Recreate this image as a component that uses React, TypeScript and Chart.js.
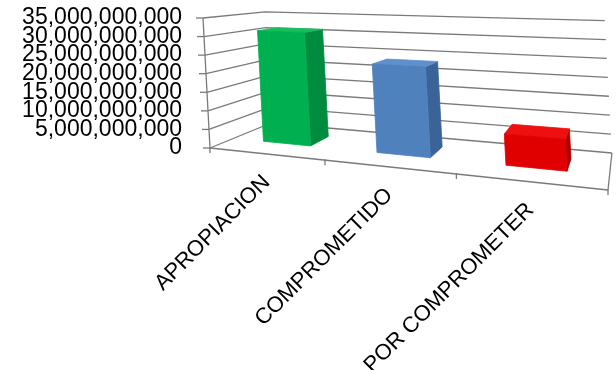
import React, { useEffect, useRef } from "react";
import { Chart, registerables } from "chart.js";

Chart.register(...registerables);

// ---- data ----
const categories = ["APROPIACION", "COMPROMETIDO", "POR COMPROMETER"];
const values = [31000000000, 23300000000, 7700000000];
const yTicks = [0, 5000000000, 10000000000, 15000000000, 20000000000, 25000000000, 30000000000, 35000000000];
const yTickLabels = [
  "0",
  "5,000,000,000",
  "10,000,000,000",
  "15,000,000,000",
  "20,000,000,000",
  "25,000,000,000",
  "30,000,000,000",
  "35,000,000,000",
];

// ---- styles ----
const frontColors = ["#00B050", "#4F81BD", "#E00000"];
const sideColors = ["#008C3F", "#3A6497", "#AD0000"];
const topColors = ["#16BE5E", "#6090CC", "#EE1010"];
const lineColor = "#7A7A7A";
const FONT = '"Liberation Sans", Arial, sans-serif';

// perspective camera (layout constants)
const CAM = { g: -0.1873, k: 0.1696, lean: 7, backDx: 61, backDy: 25, rightDrop: 42 };
const BAR_Z0 = 0.35;
const BAR_Z1 = 0.7;

function makeProj(area: any) {
  const L = area.left, B = area.bottom, R = area.right;
  const H = area.bottom - area.top;
  const { g, k, lean, backDx, backDy, rightDrop } = CAM;
  const ax = R * (1 + g) - L;
  const ay = (B + rightDrop) * (1 + g) - B;
  const pz = (L + backDx) * (1 + k) - L;
  const qz = (B - backDy) * (1 + k) - B;
  return (u: number, v: number, z: number): [number, number] => {
    const w = 1 + g * u + k * z;
    return [(L + ax * u - lean * v + pz * z) / w, (B + ay * u - H * v + qz * z) / w];
  };
}

const threeD = {
  id: "threeD",
  beforeDatasetsDraw() {
    return false;
  },
  afterDraw(chart: any) {
    const ctx = chart.ctx;
    const area = chart.chartArea;
    const P = makeProj(area);
    const W = area.right - area.left;
    const H = area.bottom - area.top;
    const yScale = chart.scales.y;
    const line = (pts: [number, number][]) => {
      ctx.beginPath();
      ctx.moveTo(pts[0][0], pts[0][1]);
      for (let i = 1; i < pts.length; i++) ctx.lineTo(pts[i][0], pts[i][1]);
      ctx.stroke();
    };
    ctx.save();
    ctx.strokeStyle = lineColor;
    ctx.lineWidth = 1.3;
    ctx.lineJoin = "round";
    // gridlines on side wall and back wall
    yTicks.forEach((t) => {
      const v = (area.bottom - yScale.getPixelForValue(t)) / H;
      line([P(0, v, 0), P(0, v, 1), P(1, v, 1)]);
      const a = P(0, v, 0);
      line([[a[0] - 7, a[1]], a]);
    });
    // value axis line
    line([P(0, 0, 0), P(0, 1, 0)]);
    // floor front and right edges
    line([P(0, 0, 0), P(1, 0, 0), P(1, 0, 1)]);
    // category tick marks
    for (let i = 0; i <= categories.length; i++) {
      const p = P(i / categories.length, 0, 0);
      line([[p[0], p[1] - 1], [p[0], p[1] + 5]]);
    }
    // bars
    const meta = chart.getDatasetMeta(0);
    meta.data.forEach((el: any, i: number) => {
      const { x, y, base, width } = el.getProps(["x", "y", "base", "width"], true);
      const u0 = (x - width / 2 - area.left) / W;
      const u1 = (x + width / 2 - area.left) / W;
      const v0 = (area.bottom - base) / H;
      const v1 = (area.bottom - y) / H;
      const face = (pts: [number, number][], color: string) => {
        ctx.beginPath();
        ctx.moveTo(pts[0][0], pts[0][1]);
        for (let j = 1; j < pts.length; j++) ctx.lineTo(pts[j][0], pts[j][1]);
        ctx.closePath();
        ctx.fillStyle = color;
        ctx.fill();
        ctx.strokeStyle = color;
        ctx.lineWidth = 0.8;
        ctx.stroke();
      };
      face([P(u1, v0, BAR_Z0), P(u1, v0, BAR_Z1), P(u1, v1, BAR_Z1), P(u1, v1, BAR_Z0)], sideColors[i]);
      face([P(u0, v1, BAR_Z0), P(u1, v1, BAR_Z0), P(u1, v1, BAR_Z1), P(u0, v1, BAR_Z1)], topColors[i]);
      face([P(u0, v0, BAR_Z0), P(u1, v0, BAR_Z0), P(u1, v1, BAR_Z0), P(u0, v1, BAR_Z0)], frontColors[i]);
    });
    // category labels
    ctx.fillStyle = "#000";
    ctx.font = `22px ${FONT}`;
    ctx.textAlign = "right";
    ctx.textBaseline = "middle";
    meta.data.forEach((el: any, i: number) => {
      const u = (el.x - area.left) / W;
      const p = P(u, 0, 0);
      ctx.save();
      ctx.translate(p[0] + 1, p[1] + 25);
      ctx.rotate(-Math.PI / 4);
      ctx.fillText(categories[i], 0, 0);
      ctx.restore();
    });
    ctx.restore();
  },
};

export default function App() {
  const ref = useRef<HTMLCanvasElement | null>(null);
  useEffect(() => {
    const canvas = ref.current;
    if (!canvas) return;
    const chart = new Chart(canvas, {
      type: "bar",
      data: {
        labels: categories,
        datasets: [
          {
            data: values,
            backgroundColor: frontColors,
            categoryPercentage: 1,
            barPercentage: 0.43,
          },
        ],
      },
      options: {
        animation: false,
        responsive: false,
        devicePixelRatio: 1,
        layout: { padding: { left: 0, top: 18, right: 8, bottom: 222 } },
        plugins: { legend: { display: false }, tooltip: { enabled: false } },
        events: [],
        scales: {
          x: { type: "category", display: false, offset: true },
          y: {
            type: "linear",
            position: "left",
            min: 0,
            max: 35000000000,
            grid: { display: false, drawTicks: false },
            border: { display: false },
            afterBuildTicks: (s: any) => {
              s.ticks = yTicks.map((v) => ({ value: v }));
            },
            afterFit: (s: any) => {
              s.width = 210;
              s.paddingTop = 0;
              s.paddingBottom = 0;
            },
            ticks: {
              autoSkip: false,
              padding: 28,
              color: "#000",
              font: { family: FONT, size: 23 },
              callback: (val: any) => {
                const idx = yTicks.indexOf(Number(val));
                return idx >= 0 ? yTickLabels[idx] : "";
              },
            },
          },
        },
      },
      plugins: [threeD],
    } as any);
    return () => chart.destroy();
  }, []);
  return (
    <div style={{ position: "absolute", left: 0, top: 0, width: 616, height: 370, background: "#fff" }}>
      <canvas ref={ref} width={616} height={370} style={{ display: "block" }} />
    </div>
  );
}
